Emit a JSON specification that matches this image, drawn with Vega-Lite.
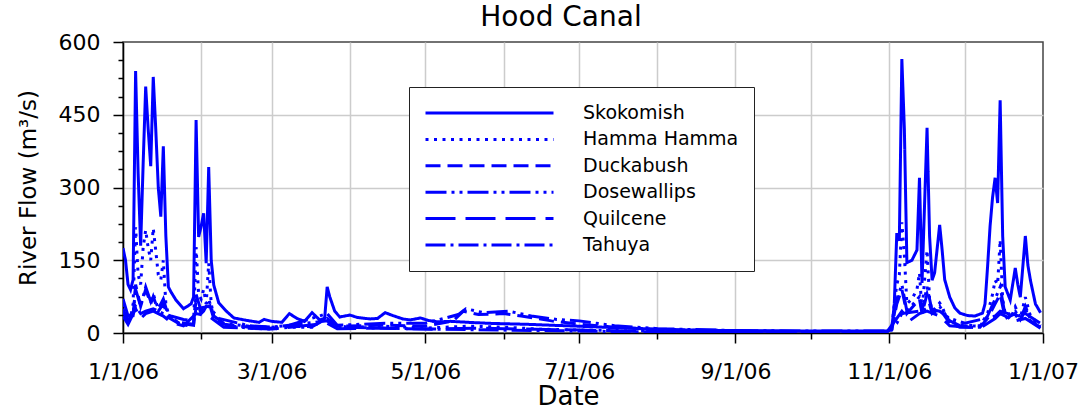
{
"$schema": "https://vega.github.io/schema/vega-lite/v6.json",
"width": 920, "height": 291,
"autosize": "none",
"padding": {"left": 123, "top": 42, "right": 35, "bottom": 80},
"background": "white",
"title": {"text": "Hood Canal", "font": "DejaVu Sans", "fontSize": 28, "fontWeight": "normal", "color": "black", "offset": -1, "dx": -22},
"config": {"view": {"stroke": "#444444", "strokeWidth": 1.5}, "font": "DejaVu Sans"},
"data": {"values": [
{"r":"Skokomish","d":"2006-01-01","q":175},{"r":"Skokomish","d":"2006-01-02","q":150},{"r":"Skokomish","d":"2006-01-03","q":100},{"r":"Skokomish","d":"2006-01-04","q":89},{"r":"Skokomish","d":"2006-01-05","q":110},{"r":"Skokomish","d":"2006-01-06","q":540},{"r":"Skokomish","d":"2006-01-07","q":330},{"r":"Skokomish","d":"2006-01-08","q":180},{"r":"Skokomish","d":"2006-01-09","q":350},{"r":"Skokomish","d":"2006-01-10","q":508},{"r":"Skokomish","d":"2006-01-11","q":420},{"r":"Skokomish","d":"2006-01-12","q":344},{"r":"Skokomish","d":"2006-01-13","q":528},{"r":"Skokomish","d":"2006-01-14","q":420},{"r":"Skokomish","d":"2006-01-15","q":300},{"r":"Skokomish","d":"2006-01-16","q":240},{"r":"Skokomish","d":"2006-01-17","q":385},{"r":"Skokomish","d":"2006-01-18","q":200},{"r":"Skokomish","d":"2006-01-19","q":95},{"r":"Skokomish","d":"2006-01-20","q":85},{"r":"Skokomish","d":"2006-01-22","q":68},{"r":"Skokomish","d":"2006-01-25","q":50},{"r":"Skokomish","d":"2006-01-28","q":60},{"r":"Skokomish","d":"2006-01-29","q":74},{"r":"Skokomish","d":"2006-01-30","q":439},{"r":"Skokomish","d":"2006-01-31","q":198},{"r":"Skokomish","d":"2006-02-01","q":220},{"r":"Skokomish","d":"2006-02-02","q":247},{"r":"Skokomish","d":"2006-02-03","q":144},{"r":"Skokomish","d":"2006-02-04","q":342},{"r":"Skokomish","d":"2006-02-05","q":150},{"r":"Skokomish","d":"2006-02-06","q":99},{"r":"Skokomish","d":"2006-02-08","q":62},{"r":"Skokomish","d":"2006-02-11","q":45},{"r":"Skokomish","d":"2006-02-14","q":31},{"r":"Skokomish","d":"2006-02-19","q":26},{"r":"Skokomish","d":"2006-02-24","q":22},{"r":"Skokomish","d":"2006-02-26","q":28},{"r":"Skokomish","d":"2006-03-01","q":24},{"r":"Skokomish","d":"2006-03-05","q":22},{"r":"Skokomish","d":"2006-03-08","q":40},{"r":"Skokomish","d":"2006-03-11","q":30},{"r":"Skokomish","d":"2006-03-14","q":24},{"r":"Skokomish","d":"2006-03-17","q":42},{"r":"Skokomish","d":"2006-03-20","q":27},{"r":"Skokomish","d":"2006-03-22","q":30},{"r":"Skokomish","d":"2006-03-23","q":95},{"r":"Skokomish","d":"2006-03-24","q":75},{"r":"Skokomish","d":"2006-03-26","q":45},{"r":"Skokomish","d":"2006-03-28","q":33},{"r":"Skokomish","d":"2006-04-01","q":37},{"r":"Skokomish","d":"2006-04-04","q":32},{"r":"Skokomish","d":"2006-04-09","q":29},{"r":"Skokomish","d":"2006-04-12","q":30},{"r":"Skokomish","d":"2006-04-15","q":42},{"r":"Skokomish","d":"2006-04-18","q":36},{"r":"Skokomish","d":"2006-04-22","q":29},{"r":"Skokomish","d":"2006-04-25","q":27},{"r":"Skokomish","d":"2006-04-29","q":31},{"r":"Skokomish","d":"2006-05-02","q":26},{"r":"Skokomish","d":"2006-05-06","q":23},{"r":"Skokomish","d":"2006-05-11","q":24},{"r":"Skokomish","d":"2006-05-18","q":22},{"r":"Skokomish","d":"2006-05-26","q":20},{"r":"Skokomish","d":"2006-06-02","q":19},{"r":"Skokomish","d":"2006-06-10","q":18},{"r":"Skokomish","d":"2006-06-20","q":16},{"r":"Skokomish","d":"2006-07-01","q":14},{"r":"Skokomish","d":"2006-07-15","q":11},{"r":"Skokomish","d":"2006-08-01","q":8},{"r":"Skokomish","d":"2006-08-15","q":6},{"r":"Skokomish","d":"2006-09-01","q":5},{"r":"Skokomish","d":"2006-09-15","q":4.5},{"r":"Skokomish","d":"2006-10-01","q":4},{"r":"Skokomish","d":"2006-10-15","q":4},{"r":"Skokomish","d":"2006-10-31","q":4},{"r":"Skokomish","d":"2006-11-02","q":8},{"r":"Skokomish","d":"2006-11-03","q":60},{"r":"Skokomish","d":"2006-11-04","q":206},{"r":"Skokomish","d":"2006-11-05","q":190},{"r":"Skokomish","d":"2006-11-06","q":565},{"r":"Skokomish","d":"2006-11-07","q":420},{"r":"Skokomish","d":"2006-11-08","q":145},{"r":"Skokomish","d":"2006-11-10","q":150},{"r":"Skokomish","d":"2006-11-12","q":171},{"r":"Skokomish","d":"2006-11-13","q":320},{"r":"Skokomish","d":"2006-11-14","q":103},{"r":"Skokomish","d":"2006-11-16","q":423},{"r":"Skokomish","d":"2006-11-17","q":200},{"r":"Skokomish","d":"2006-11-18","q":109},{"r":"Skokomish","d":"2006-11-19","q":124},{"r":"Skokomish","d":"2006-11-21","q":223},{"r":"Skokomish","d":"2006-11-22","q":170},{"r":"Skokomish","d":"2006-11-23","q":110},{"r":"Skokomish","d":"2006-11-25","q":74},{"r":"Skokomish","d":"2006-11-27","q":52},{"r":"Skokomish","d":"2006-11-29","q":41},{"r":"Skokomish","d":"2006-12-02","q":36},{"r":"Skokomish","d":"2006-12-05","q":35},{"r":"Skokomish","d":"2006-12-08","q":41},{"r":"Skokomish","d":"2006-12-09","q":60},{"r":"Skokomish","d":"2006-12-10","q":136},{"r":"Skokomish","d":"2006-12-11","q":220},{"r":"Skokomish","d":"2006-12-12","q":280},{"r":"Skokomish","d":"2006-12-13","q":320},{"r":"Skokomish","d":"2006-12-14","q":268},{"r":"Skokomish","d":"2006-12-15","q":480},{"r":"Skokomish","d":"2006-12-16","q":200},{"r":"Skokomish","d":"2006-12-17","q":95},{"r":"Skokomish","d":"2006-12-19","q":68},{"r":"Skokomish","d":"2006-12-21","q":134},{"r":"Skokomish","d":"2006-12-22","q":100},{"r":"Skokomish","d":"2006-12-23","q":74},{"r":"Skokomish","d":"2006-12-25","q":200},{"r":"Skokomish","d":"2006-12-26","q":140},{"r":"Skokomish","d":"2006-12-27","q":109},{"r":"Skokomish","d":"2006-12-29","q":60},{"r":"Skokomish","d":"2006-12-31","q":42},
{"r":"Hamma Hamma","d":"2006-01-01","q":60},{"r":"Hamma Hamma","d":"2006-01-02","q":45},{"r":"Hamma Hamma","d":"2006-01-03","q":25},{"r":"Hamma Hamma","d":"2006-01-04","q":30},{"r":"Hamma Hamma","d":"2006-01-05","q":60},{"r":"Hamma Hamma","d":"2006-01-06","q":218},{"r":"Hamma Hamma","d":"2006-01-07","q":120},{"r":"Hamma Hamma","d":"2006-01-08","q":100},{"r":"Hamma Hamma","d":"2006-01-09","q":177},{"r":"Hamma Hamma","d":"2006-01-10","q":212},{"r":"Hamma Hamma","d":"2006-01-11","q":175},{"r":"Hamma Hamma","d":"2006-01-12","q":150},{"r":"Hamma Hamma","d":"2006-01-13","q":216},{"r":"Hamma Hamma","d":"2006-01-14","q":170},{"r":"Hamma Hamma","d":"2006-01-15","q":120},{"r":"Hamma Hamma","d":"2006-01-16","q":110},{"r":"Hamma Hamma","d":"2006-01-17","q":150},{"r":"Hamma Hamma","d":"2006-01-18","q":60},{"r":"Hamma Hamma","d":"2006-01-19","q":40},{"r":"Hamma Hamma","d":"2006-01-21","q":28},{"r":"Hamma Hamma","d":"2006-01-24","q":18},{"r":"Hamma Hamma","d":"2006-01-27","q":15},{"r":"Hamma Hamma","d":"2006-01-29","q":20},{"r":"Hamma Hamma","d":"2006-01-30","q":177},{"r":"Hamma Hamma","d":"2006-01-31","q":80},{"r":"Hamma Hamma","d":"2006-02-01","q":70},{"r":"Hamma Hamma","d":"2006-02-02","q":90},{"r":"Hamma Hamma","d":"2006-02-03","q":60},{"r":"Hamma Hamma","d":"2006-02-04","q":144},{"r":"Hamma Hamma","d":"2006-02-05","q":60},{"r":"Hamma Hamma","d":"2006-02-06","q":35},{"r":"Hamma Hamma","d":"2006-02-08","q":22},{"r":"Hamma Hamma","d":"2006-02-12","q":15},{"r":"Hamma Hamma","d":"2006-02-20","q":10},{"r":"Hamma Hamma","d":"2006-03-01","q":8},{"r":"Hamma Hamma","d":"2006-03-08","q":12},{"r":"Hamma Hamma","d":"2006-03-17","q":12},{"r":"Hamma Hamma","d":"2006-03-23","q":35},{"r":"Hamma Hamma","d":"2006-03-26","q":15},{"r":"Hamma Hamma","d":"2006-04-01","q":12},{"r":"Hamma Hamma","d":"2006-04-15","q":14},{"r":"Hamma Hamma","d":"2006-05-01","q":10},{"r":"Hamma Hamma","d":"2006-05-18","q":14},{"r":"Hamma Hamma","d":"2006-06-02","q":12},{"r":"Hamma Hamma","d":"2006-06-15","q":8},{"r":"Hamma Hamma","d":"2006-07-01","q":6},{"r":"Hamma Hamma","d":"2006-08-01","q":4},{"r":"Hamma Hamma","d":"2006-09-01","q":3},{"r":"Hamma Hamma","d":"2006-10-01","q":2.5},{"r":"Hamma Hamma","d":"2006-10-31","q":2.5},{"r":"Hamma Hamma","d":"2006-11-02","q":8},{"r":"Hamma Hamma","d":"2006-11-03","q":60},{"r":"Hamma Hamma","d":"2006-11-04","q":100},{"r":"Hamma Hamma","d":"2006-11-05","q":120},{"r":"Hamma Hamma","d":"2006-11-06","q":228},{"r":"Hamma Hamma","d":"2006-11-07","q":160},{"r":"Hamma Hamma","d":"2006-11-08","q":60},{"r":"Hamma Hamma","d":"2006-11-10","q":70},{"r":"Hamma Hamma","d":"2006-11-12","q":90},{"r":"Hamma Hamma","d":"2006-11-13","q":124},{"r":"Hamma Hamma","d":"2006-11-14","q":45},{"r":"Hamma Hamma","d":"2006-11-16","q":171},{"r":"Hamma Hamma","d":"2006-11-17","q":70},{"r":"Hamma Hamma","d":"2006-11-18","q":45},{"r":"Hamma Hamma","d":"2006-11-19","q":50},{"r":"Hamma Hamma","d":"2006-11-21","q":62},{"r":"Hamma Hamma","d":"2006-11-22","q":55},{"r":"Hamma Hamma","d":"2006-11-23","q":40},{"r":"Hamma Hamma","d":"2006-11-25","q":25},{"r":"Hamma Hamma","d":"2006-11-29","q":16},{"r":"Hamma Hamma","d":"2006-12-07","q":15},{"r":"Hamma Hamma","d":"2006-12-10","q":40},{"r":"Hamma Hamma","d":"2006-12-12","q":80},{"r":"Hamma Hamma","d":"2006-12-13","q":109},{"r":"Hamma Hamma","d":"2006-12-14","q":100},{"r":"Hamma Hamma","d":"2006-12-15","q":192},{"r":"Hamma Hamma","d":"2006-12-16","q":70},{"r":"Hamma Hamma","d":"2006-12-17","q":40},{"r":"Hamma Hamma","d":"2006-12-19","q":28},{"r":"Hamma Hamma","d":"2006-12-21","q":54},{"r":"Hamma Hamma","d":"2006-12-23","q":30},{"r":"Hamma Hamma","d":"2006-12-25","q":74},{"r":"Hamma Hamma","d":"2006-12-27","q":35},{"r":"Hamma Hamma","d":"2006-12-31","q":15},
{"r":"Duckabush","d":"2006-01-01","q":50},{"r":"Duckabush","d":"2006-01-03","q":22},{"r":"Duckabush","d":"2006-01-05","q":35},{"r":"Duckabush","d":"2006-01-06","q":100},{"r":"Duckabush","d":"2006-01-08","q":55},{"r":"Duckabush","d":"2006-01-10","q":90},{"r":"Duckabush","d":"2006-01-12","q":60},{"r":"Duckabush","d":"2006-01-13","q":75},{"r":"Duckabush","d":"2006-01-15","q":45},{"r":"Duckabush","d":"2006-01-17","q":60},{"r":"Duckabush","d":"2006-01-19","q":32},{"r":"Duckabush","d":"2006-01-23","q":20},{"r":"Duckabush","d":"2006-01-29","q":16},{"r":"Duckabush","d":"2006-01-30","q":70},{"r":"Duckabush","d":"2006-02-01","q":40},{"r":"Duckabush","d":"2006-02-02","q":45},{"r":"Duckabush","d":"2006-02-04","q":65},{"r":"Duckabush","d":"2006-02-06","q":30},{"r":"Duckabush","d":"2006-02-10","q":18},{"r":"Duckabush","d":"2006-02-20","q":12},{"r":"Duckabush","d":"2006-03-01","q":10},{"r":"Duckabush","d":"2006-03-08","q":14},{"r":"Duckabush","d":"2006-03-17","q":13},{"r":"Duckabush","d":"2006-03-23","q":30},{"r":"Duckabush","d":"2006-03-27","q":14},{"r":"Duckabush","d":"2006-04-15","q":16},{"r":"Duckabush","d":"2006-05-01","q":14},{"r":"Duckabush","d":"2006-05-12","q":25},{"r":"Duckabush","d":"2006-05-16","q":45},{"r":"Duckabush","d":"2006-05-22","q":38},{"r":"Duckabush","d":"2006-06-01","q":40},{"r":"Duckabush","d":"2006-06-08","q":35},{"r":"Duckabush","d":"2006-06-20","q":25},{"r":"Duckabush","d":"2006-07-01","q":18},{"r":"Duckabush","d":"2006-07-15","q":12},{"r":"Duckabush","d":"2006-08-01","q":7},{"r":"Duckabush","d":"2006-09-01","q":4},{"r":"Duckabush","d":"2006-10-01","q":3},{"r":"Duckabush","d":"2006-10-31","q":3},{"r":"Duckabush","d":"2006-11-02","q":6},{"r":"Duckabush","d":"2006-11-04","q":60},{"r":"Duckabush","d":"2006-11-06","q":90},{"r":"Duckabush","d":"2006-11-08","q":40},{"r":"Duckabush","d":"2006-11-13","q":70},{"r":"Duckabush","d":"2006-11-14","q":40},{"r":"Duckabush","d":"2006-11-16","q":80},{"r":"Duckabush","d":"2006-11-18","q":40},{"r":"Duckabush","d":"2006-11-21","q":50},{"r":"Duckabush","d":"2006-11-25","q":20},{"r":"Duckabush","d":"2006-11-29","q":12},{"r":"Duckabush","d":"2006-12-07","q":12},{"r":"Duckabush","d":"2006-12-10","q":30},{"r":"Duckabush","d":"2006-12-13","q":60},{"r":"Duckabush","d":"2006-12-15","q":80},{"r":"Duckabush","d":"2006-12-17","q":30},{"r":"Duckabush","d":"2006-12-21","q":40},{"r":"Duckabush","d":"2006-12-23","q":25},{"r":"Duckabush","d":"2006-12-25","q":50},{"r":"Duckabush","d":"2006-12-27","q":25},{"r":"Duckabush","d":"2006-12-31","q":12},
{"r":"Dosewallips","d":"2006-01-01","q":70},{"r":"Dosewallips","d":"2006-01-03","q":35},{"r":"Dosewallips","d":"2006-01-05","q":40},{"r":"Dosewallips","d":"2006-01-06","q":90},{"r":"Dosewallips","d":"2006-01-08","q":55},{"r":"Dosewallips","d":"2006-01-10","q":95},{"r":"Dosewallips","d":"2006-01-12","q":65},{"r":"Dosewallips","d":"2006-01-13","q":80},{"r":"Dosewallips","d":"2006-01-15","q":50},{"r":"Dosewallips","d":"2006-01-17","q":70},{"r":"Dosewallips","d":"2006-01-19","q":35},{"r":"Dosewallips","d":"2006-01-23","q":22},{"r":"Dosewallips","d":"2006-01-29","q":18},{"r":"Dosewallips","d":"2006-01-30","q":80},{"r":"Dosewallips","d":"2006-02-01","q":45},{"r":"Dosewallips","d":"2006-02-02","q":50},{"r":"Dosewallips","d":"2006-02-04","q":70},{"r":"Dosewallips","d":"2006-02-06","q":35},{"r":"Dosewallips","d":"2006-02-10","q":20},{"r":"Dosewallips","d":"2006-02-20","q":14},{"r":"Dosewallips","d":"2006-03-01","q":12},{"r":"Dosewallips","d":"2006-03-08","q":16},{"r":"Dosewallips","d":"2006-03-23","q":40},{"r":"Dosewallips","d":"2006-03-27","q":16},{"r":"Dosewallips","d":"2006-04-15","q":20},{"r":"Dosewallips","d":"2006-05-01","q":20},{"r":"Dosewallips","d":"2006-05-14","q":38},{"r":"Dosewallips","d":"2006-05-17","q":50},{"r":"Dosewallips","d":"2006-05-24","q":42},{"r":"Dosewallips","d":"2006-06-03","q":45},{"r":"Dosewallips","d":"2006-06-12","q":35},{"r":"Dosewallips","d":"2006-06-22","q":28},{"r":"Dosewallips","d":"2006-07-01","q":25},{"r":"Dosewallips","d":"2006-07-15","q":15},{"r":"Dosewallips","d":"2006-08-01","q":9},{"r":"Dosewallips","d":"2006-09-01","q":5},{"r":"Dosewallips","d":"2006-10-01","q":4},{"r":"Dosewallips","d":"2006-10-31","q":4},{"r":"Dosewallips","d":"2006-11-02","q":8},{"r":"Dosewallips","d":"2006-11-04","q":70},{"r":"Dosewallips","d":"2006-11-06","q":100},{"r":"Dosewallips","d":"2006-11-08","q":45},{"r":"Dosewallips","d":"2006-11-13","q":75},{"r":"Dosewallips","d":"2006-11-14","q":45},{"r":"Dosewallips","d":"2006-11-16","q":95},{"r":"Dosewallips","d":"2006-11-18","q":45},{"r":"Dosewallips","d":"2006-11-21","q":55},{"r":"Dosewallips","d":"2006-11-25","q":25},{"r":"Dosewallips","d":"2006-11-29","q":15},{"r":"Dosewallips","d":"2006-12-07","q":14},{"r":"Dosewallips","d":"2006-12-10","q":35},{"r":"Dosewallips","d":"2006-12-13","q":70},{"r":"Dosewallips","d":"2006-12-15","q":95},{"r":"Dosewallips","d":"2006-12-17","q":35},{"r":"Dosewallips","d":"2006-12-21","q":45},{"r":"Dosewallips","d":"2006-12-23","q":28},{"r":"Dosewallips","d":"2006-12-25","q":55},{"r":"Dosewallips","d":"2006-12-27","q":28},{"r":"Dosewallips","d":"2006-12-31","q":14},
{"r":"Quilcene","d":"2006-01-01","q":35},{"r":"Quilcene","d":"2006-01-03","q":18},{"r":"Quilcene","d":"2006-01-06","q":50},{"r":"Quilcene","d":"2006-01-08","q":30},{"r":"Quilcene","d":"2006-01-10","q":40},{"r":"Quilcene","d":"2006-01-13","q":45},{"r":"Quilcene","d":"2006-01-17","q":35},{"r":"Quilcene","d":"2006-01-20","q":22},{"r":"Quilcene","d":"2006-01-25","q":15},{"r":"Quilcene","d":"2006-01-30","q":40},{"r":"Quilcene","d":"2006-02-04","q":35},{"r":"Quilcene","d":"2006-02-10","q":12},{"r":"Quilcene","d":"2006-03-01","q":8},{"r":"Quilcene","d":"2006-03-23","q":20},{"r":"Quilcene","d":"2006-03-27","q":9},{"r":"Quilcene","d":"2006-04-15","q":10},{"r":"Quilcene","d":"2006-05-01","q":8},{"r":"Quilcene","d":"2006-05-20","q":10},{"r":"Quilcene","d":"2006-06-01","q":9},{"r":"Quilcene","d":"2006-07-01","q":6},{"r":"Quilcene","d":"2006-08-01","q":3},{"r":"Quilcene","d":"2006-09-01","q":2},{"r":"Quilcene","d":"2006-10-31","q":2},{"r":"Quilcene","d":"2006-11-04","q":30},{"r":"Quilcene","d":"2006-11-06","q":45},{"r":"Quilcene","d":"2006-11-09","q":25},{"r":"Quilcene","d":"2006-11-13","q":40},{"r":"Quilcene","d":"2006-11-16","q":45},{"r":"Quilcene","d":"2006-11-21","q":35},{"r":"Quilcene","d":"2006-11-25","q":15},{"r":"Quilcene","d":"2006-12-07","q":10},{"r":"Quilcene","d":"2006-12-13","q":30},{"r":"Quilcene","d":"2006-12-15","q":40},{"r":"Quilcene","d":"2006-12-21","q":25},{"r":"Quilcene","d":"2006-12-25","q":30},{"r":"Quilcene","d":"2006-12-31","q":10},
{"r":"Tahuya","d":"2006-01-01","q":45},{"r":"Tahuya","d":"2006-01-03","q":25},{"r":"Tahuya","d":"2006-01-06","q":55},{"r":"Tahuya","d":"2006-01-08","q":40},{"r":"Tahuya","d":"2006-01-10","q":45},{"r":"Tahuya","d":"2006-01-13","q":50},{"r":"Tahuya","d":"2006-01-17","q":40},{"r":"Tahuya","d":"2006-01-20","q":35},{"r":"Tahuya","d":"2006-01-25","q":28},{"r":"Tahuya","d":"2006-01-29","q":25},{"r":"Tahuya","d":"2006-01-30","q":50},{"r":"Tahuya","d":"2006-02-04","q":55},{"r":"Tahuya","d":"2006-02-08","q":30},{"r":"Tahuya","d":"2006-02-20","q":15},{"r":"Tahuya","d":"2006-03-01","q":12},{"r":"Tahuya","d":"2006-03-23","q":25},{"r":"Tahuya","d":"2006-03-27","q":12},{"r":"Tahuya","d":"2006-04-15","q":10},{"r":"Tahuya","d":"2006-05-01","q":8},{"r":"Tahuya","d":"2006-06-01","q":6},{"r":"Tahuya","d":"2006-07-01","q":4},{"r":"Tahuya","d":"2006-08-01","q":2},{"r":"Tahuya","d":"2006-10-31","q":2},{"r":"Tahuya","d":"2006-11-04","q":20},{"r":"Tahuya","d":"2006-11-06","q":40},{"r":"Tahuya","d":"2006-11-13","q":45},{"r":"Tahuya","d":"2006-11-16","q":50},{"r":"Tahuya","d":"2006-11-21","q":45},{"r":"Tahuya","d":"2006-11-25","q":30},{"r":"Tahuya","d":"2006-12-01","q":20},{"r":"Tahuya","d":"2006-12-13","q":35},{"r":"Tahuya","d":"2006-12-15","q":45},{"r":"Tahuya","d":"2006-12-21","q":35},{"r":"Tahuya","d":"2006-12-25","q":40},{"r":"Tahuya","d":"2006-12-31","q":20}
]},
"mark": {"type": "line", "color": "#0000ff", "strokeWidth": 3, "clip": true},
"encoding": {
  "x": {"field": "d", "type": "temporal",
    "scale": {"type": "utc", "domain": [{"year": 2006, "month": 1, "date": 1, "utc": true}, {"year": 2007, "month": 1, "date": 1, "utc": true}]},
    "axis": {"title": "Date", "titleX": 445, "tickCount": {"interval": "month", "step": 1},
      "labelExpr": "utcmonth(datum.value) % 2 == 0 ? utcFormat(datum.value, '%-m/%-d/%y') : ''",
      "labelFlush": false, "labelOverlap": false, "labelPadding": 18, "labelFont": "DejaVu Sans", "labelFontSize": 22, "labelColor": "black",
      "tickSize": {"condition": {"test": "utcmonth(datum.value) % 2 == 0", "value": 10}, "value": 6},
      "tickColor": "black", "tickWidth": 1.5, "domainColor": "black", "domainWidth": 1.5,
      "grid": true, "gridColor": "#cccccc", "gridWidth": 1.5,
      "gridOpacity": {"condition": {"test": "utcyear(datum.value) == 2007", "value": 0}, "value": 1},
      "titleFont": "DejaVu Sans", "titleFontSize": 26, "titleFontWeight": "normal", "titleColor": "black", "titlePadding": 1}},
  "y": {"field": "q", "type": "quantitative",
    "scale": {"domain": [0, 600], "nice": false},
    "axis": {"title": "River Flow (m³/s)", "values": [0, 37.5, 75, 112.5, 150, 187.5, 225, 262.5, 300, 337.5, 375, 412.5, 450, 487.5, 525, 562.5, 600],
      "labelExpr": "datum.value % 150 == 0 ? format(datum.value, 'd') : ''",
      "labelOverlap": false, "labelPadding": 13, "labelFont": "DejaVu Sans", "labelFontSize": 22, "labelColor": "black",
      "tickSize": {"condition": {"test": "datum.value % 150 == 0", "value": 10}, "value": 5},
      "tickColor": "black", "tickWidth": 1.5, "domainColor": "black", "domainWidth": 1.5,
      "grid": true, "gridColor": "#cccccc", "gridWidth": 1.5,
      "gridOpacity": {"condition": {"test": "datum.value % 150 == 0 && datum.value < 600", "value": 1}, "value": 0},
      "titleFont": "DejaVu Sans", "titleFontSize": 23, "titleFontWeight": "normal", "titleColor": "black", "titlePadding": 18}},
  "strokeDash": {"field": "r", "type": "nominal",
    "scale": {"domain": ["Skokomish", "Hamma Hamma", "Duckabush", "Dosewallips", "Quilcene", "Tahuya"],
      "range": [[1, 0], [3, 5.5], [15, 7], [21, 5, 3, 5, 3, 5], [30, 10], [20, 5, 3, 5]]},
    "legend": {"title": null, "orient": "none", "legendX": 286, "legendY": 45,
      "symbolType": "stroke", "symbolSize": 16384, "symbolStrokeWidth": 3, "symbolStrokeColor": "#0000ff",
      "labelFont": "DejaVu Sans", "labelFontSize": 19, "labelColor": "black", "labelOffset": 28, "labelLimit": 300,
      "clipHeight": 22, "rowPadding": 4.4, "padding": 15, "strokeColor": "#222222", "fillColor": "white"}}
}
}
